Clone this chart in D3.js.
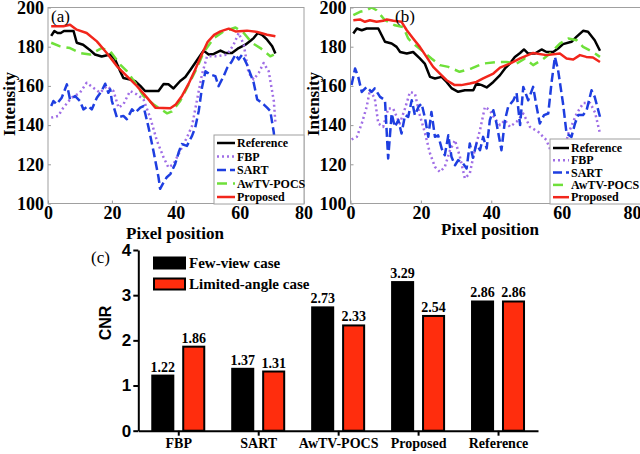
<!DOCTYPE html>
<html><head><meta charset="utf-8">
<script src="https://cdn.jsdelivr.net/npm/d3@7"></script>
<style>body{margin:0;background:#fff}svg{display:block}</style>
</head><body><svg id="c" width="640" height="454"></svg>
<script>
// ---------------- DATA ----------------
const seriesNames = ['Reference','FBP','SART','AwTV-POCS','Proposed'];
const xTicks = [0,20,40,60,80];
const yTicks = [100,120,140,160,180,200];

// Panel (a): few-view case profiles [pixel, intensity]
const refA = [[1,185.5],[2,188],[3,187],[4,187],[5,188],[8,188],[9,182],[11,181],[13,178.5],[14.7,176],[16.8,175],[19.5,176],[21,173.5],[22.6,167.5],[23.6,164],[25.7,163.3],[27.3,162.4],[28.9,160],[30.4,157.4],[32,157.4],[34.6,157.4],[36.2,161],[37.7,160.8],[39.3,158.7],[41.4,162.5],[43,164.5],[44.5,168],[46.6,173],[48.7,178],[50.3,176],[51.9,176.3],[54,178],[55.5,176.8],[57.6,176.8],[59.7,179.3],[61.8,181],[63.4,183],[64.4,184.4],[65.7,187],[67,186.1],[68.6,183.6],[70.2,180.2],[71.2,176.5]];
const fbpA = [[1,143.8],[3.2,144.7],[4.8,148.9],[7.4,154],[10,156.5],[12.1,161.6],[14.2,159],[16.3,156.5],[18.4,159.9],[20.5,157.4],[22.1,148.9],[23.6,150.6],[25.7,157.4],[27.8,155.7],[29.9,153.1],[32,143.8],[34.1,132],[36.2,123.5],[37.7,118.4],[39.3,120.1],[41.4,126.9],[43.5,133.7],[45.1,139.6],[46.6,152.3],[48.2,165.8],[49.8,175.1],[52.9,175.1],[56.1,176],[58.1,181],[59.7,187],[61.3,181],[62.8,166.7],[64.4,163.3],[66,166.7],[67.5,171.7],[69.1,167.5],[70.7,152.3],[71.2,141.3]];
const sartA = [[1,149.7],[1.7,152.3],[2.7,150.6],[4.3,154],[5.3,158.2],[5.9,160.8],[6.9,153.1],[8.5,154.8],[10,152.3],[11.1,148],[12.6,149.7],[13.7,148],[15.3,154],[16.8,157.4],[17.9,161.1],[18.9,156.5],[19.5,158.2],[20,152.3],[21.6,143.8],[23.6,144.7],[24.7,143],[26.3,148],[27.3,146.3],[28.9,148.9],[29.9,149.7],[31.5,138.7],[33,126.9],[34.6,113.4],[35.1,107.5],[36.2,110.8],[37.2,113.4],[38.3,115],[39.8,120.1],[40.9,126],[41.9,130.3],[43.5,129.4],[45.1,134.5],[46.1,138.7],[47.2,147.2],[48.2,159],[49.3,167.5],[50.8,165.8],[52.4,165],[53.4,159.9],[55,165],[56.1,169.2],[57.6,172.6],[58.7,176],[59.7,173.5],[60.8,176],[62.3,170.9],[64.4,161.6],[65.5,153.1],[67.5,150.6],[68.6,148.9],[69.6,147.2],[70.7,136.2],[71.2,128]];
const awtvA = [[1,182],[3.8,180.2],[6.9,179.3],[10,176.8],[13.2,176],[16.8,179.3],[19.5,177.7],[22.6,170.9],[24.7,167.5],[27.3,161.6],[29.9,154.8],[33,150.6],[36.2,147.2],[37.3,146],[38.8,147],[41.4,152.3],[43.5,159],[46.6,169],[48.7,177],[51.9,184.4],[55,187.8],[58.7,189.8],[61.3,187],[63.9,181.9],[66.5,179.3],[69.6,175.1],[70.7,176]];
const propA = [[1,190.4],[4.8,190.4],[6.9,191.2],[9,188.7],[12.1,187],[15.3,182.7],[18.4,176.8],[21.6,170],[24.7,165],[27.8,160],[31,154],[33.6,148.9],[38.3,148.6],[40,150.5],[42,155],[44,161],[46,168],[48,175.5],[50,182.5],[52,186],[54,187.8],[56.6,189.2],[58.7,187.8],[62.3,188.2],[65.5,187.5],[68.6,186.1],[71.2,185.3]];

// Panel (b): limited-angle case profiles [pixel, intensity]
const refB = [[0.8,186.7],[1.8,189.3],[3.2,188.4],[4.6,189.3],[7.9,189.3],[9.8,182.5],[11.7,181.6],[13.1,179.9],[14.1,177.3],[16,176.5],[17.8,177.3],[19.7,174],[21.1,171.4],[22.6,164.6],[24,163.8],[25.9,164.6],[27.3,162],[28.8,158.7],[30.6,157],[32.5,157.8],[34.9,157.8],[35.8,161.2],[37.3,160.4],[38.7,159.2],[40.6,162],[42.5,165.5],[43.9,168.9],[45.3,171.4],[46.7,174.8],[48.2,176.8],[49.3,178.6],[50.5,176.5],[52.4,176.5],[54.3,178.6],[55.7,177.3],[57.6,177.3],[59,179.1],[60.4,181.3],[62.8,182.5],[64.2,185],[66.1,188.1],[67.5,187.6],[69.4,183.3],[70.9,177.9]];
const fbpB = [[0.3,132.7],[1.8,134],[3.2,140.8],[4.6,149.3],[5.5,157.8],[6.9,153.6],[7.9,140.8],[9.3,139.1],[10.7,148.5],[12.1,148.5],[14,140.8],[15.5,148.5],[16.9,156.9],[18.3,156.1],[19.7,145.1],[21.2,135.7],[22.6,125.5],[24,118.7],[25.4,116.1],[26.8,118.7],[28.3,127.2],[29.7,132.3],[31.1,123.8],[32.5,112.8],[33.9,115.3],[35.4,128.1],[36.8,137.4],[38.2,149.3],[39.6,147.6],[41,143.4],[42.5,140],[43.9,142.5],[45.3,139.1],[47.2,141.7],[49.1,145.9],[51,139.1],[53.4,136.5],[55.7,132.3],[57.6,123.8],[59.1,120.4],[60.5,126],[61.9,135.7],[64.3,146],[66.2,151.3],[68.1,151.3],[69.5,146.4],[70.9,135.7]];
const sartB = [[0.3,160.4],[1.3,168.9],[2.2,164.6],[3.2,156.9],[4.6,159.5],[6,156.9],[6.9,158.7],[8.4,154.4],[9.8,152.7],[10.7,123],[11.7,145.9],[12.6,139.1],[13.6,142.5],[14.5,135.7],[15.5,145.1],[16.4,144.2],[17.4,152.7],[18.3,145.1],[19.3,149.3],[20.2,151],[21.2,143.4],[22.1,134],[23,146.7],[24,134],[24.9,134.8],[25.9,128.1],[26.8,124.6],[27.8,134.8],[28.7,123.8],[29.7,119.5],[30.6,122.1],[32,120.4],[33,117.9],[33.9,130.6],[34.8,123.3],[35.8,130.6],[36.8,127.2],[37.7,134],[38.7,128.1],[39.6,142.5],[40.6,147.6],[41.5,140.8],[42.9,127.2],[43.9,142.5],[44.8,149.3],[46.3,152.7],[47.2,156.4],[48.2,140],[49.1,159.5],[50.5,152.7],[51.9,159.5],[52.9,149.3],[53.8,140.8],[55,145.1],[56.2,145.9],[57.1,161.2],[58.1,174.8],[59,168],[60.4,151],[61.4,135.7],[62.8,134],[63.8,140.8],[64.7,145.1],[66.1,145.1],[67.1,147.6],[68.5,157.8],[69.4,154.4],[70.9,144.2]];
const awtvB = [[0.8,196.1],[2.7,197.8],[4.6,198.6],[6,200],[7.4,198.6],[9.8,193.5],[12.6,190.9],[15,190],[16.4,184.2],[17.8,181.6],[20.2,178.2],[23,174],[25.4,170.6],[27.8,169.7],[31,167.2],[34.4,168.9],[37.7,171.4],[42,172.2],[44.4,172.2],[47.2,171.4],[49.6,174],[51.9,170.6],[54.3,173.1],[56.7,176.5],[59.5,181.6],[61.9,184.2],[64.3,183.3],[66.1,179.9],[68.9,177.3],[70.9,174.8]];
const propB = [[0.8,193.5],[2.7,193.9],[4.1,192.7],[5.5,193.5],[7.4,192.7],[9.3,193.2],[10.3,193.9],[12.2,193.2],[14.5,192.7],[16,188.4],[17.8,184.2],[19.7,179.9],[21.6,174.8],[23.5,169.7],[25.4,166.3],[27.3,162.9],[29.6,160.4],[31.5,160.4],[33.9,161.2],[35.8,162],[37.7,163.8],[40.6,166.3],[42.5,169.3],[45.3,171.4],[48.2,174],[51.9,176.8],[55.7,175.7],[59.5,176.5],[61.4,174],[63.3,173.5],[65.2,175.7],[67,174.8],[68.9,174.5],[70.9,172.2]];

// Panel (c): CNR bar chart
const cnrCategories = ['FBP','SART','AwTV-POCS','Proposed','Reference'];
const fewView = [1.22,1.37,2.73,3.29,2.86];
const limitedAngle = [1.86,1.31,2.33,2.54,2.86];
const cnrTicks = [0,1,2,3,4];
const barSeries = ['Few-view case','Limited-angle case'];

// ---------------- STYLE ----------------
const serif = '"Liberation Serif","Times New Roman",serif';
const sans = '"Liberation Sans",Arial,sans-serif';
const styles = {
  'Reference': {color:'#000000', dash:null},
  'FBP': {color:'#a06ee6', dash:'2,3'},
  'SART': {color:'#1e3ee0', dash:'9,4'},
  'AwTV-POCS': {color:'#6fe03a', dash:'10,6'},
  'Proposed': {color:'#f2261c', dash:null}
};
const svg = d3.select('#c');

function drawPanel(id, x, y, data, opts) {
  const g = svg.append('g');
  const xl = x.range()[0], xr = opts.frameRight, yt = y.range()[1], yb = y.range()[0];
  g.append('clipPath').attr('id', 'clip' + id).append('rect')
    .attr('x', xl).attr('y', yt).attr('width', xr - xl).attr('height', yb - yt);
  const ax = g.append('g').attr('transform', `translate(0,${yb})`)
    .call(d3.axisBottom(x).tickValues(xTicks).tickSizeInner(-3).tickSizeOuter(0).tickPadding(3));
  const ay = g.append('g').attr('transform', `translate(${xl},0)`)
    .call(d3.axisLeft(y).tickValues(yTicks).tickSizeInner(-3).tickSizeOuter(0).tickPadding(4));
  [ax, ay].forEach(a => {
    a.select('.domain').remove();
    a.selectAll('line').attr('stroke', '#999');
    a.selectAll('text').attr('font-family', serif).attr('font-weight', 'bold')
      .attr('font-size', 18).attr('fill', '#000');
  });
  g.append('rect').attr('x', xl).attr('y', yt).attr('width', xr - xl).attr('height', yb - yt)
    .attr('fill', 'none').attr('stroke', '#a0a0a0').attr('stroke-width', 1);
  const line = d3.line().x(d => x(d[0])).y(d => y(d[1]));
  const lg = g.append('g').attr('clip-path', `url(#clip${id})`);
  seriesNames.forEach((name, i) => {
    lg.append('path').datum(data[i]).attr('d', line)
      .attr('fill', 'none').attr('stroke', styles[name].color).attr('stroke-width', 2.5)
      .attr('stroke-dasharray', styles[name].dash).attr('stroke-linejoin', 'round');
  });
  g.append('text').attr('x', opts.labelX).attr('y', 22).text(opts.label)
    .attr('font-family', serif).attr('font-size', 17);
  g.append('text').attr('x', opts.titleX).attr('y', opts.titleY).attr('text-anchor', 'middle')
    .attr('dominant-baseline', 'central').text('Pixel position')
    .attr('font-family', serif).attr('font-weight', 'bold').attr('font-size', 17);
  g.append('text').attr('transform', `translate(${opts.yTitleX},104) rotate(-90)`)
    .attr('text-anchor', 'middle').attr('dominant-baseline', 'central').text('Intensity')
    .attr('font-family', serif).attr('font-weight', 'bold').attr('font-size', 17);
  const L = opts.legend;
  const leg = g.append('g');
  leg.append('rect').attr('x', L.x).attr('y', L.y).attr('width', L.w).attr('height', L.h)
    .attr('fill', '#fff').attr('stroke', '#a0a0a0');
  seriesNames.forEach((name, i) => {
    const cy = L.y0 + i * L.dy;
    leg.append('line').attr('x1', L.x + 3).attr('x2', L.x + 3 + L.lw).attr('y1', cy).attr('y2', cy)
      .attr('stroke', styles[name].color).attr('stroke-width', 2.5)
      .attr('stroke-dasharray', styles[name].dash);
    leg.append('text').attr('x', L.x + 5 + L.lw).attr('y', cy).attr('dominant-baseline', 'central')
      .text(name).attr('font-family', serif).attr('font-weight', 'bold').attr('font-size', 12);
  });
}

const yLine = d3.scaleLinear().domain([100, 200]).range([203.5, 7.5]);
const xA = d3.scaleLinear().domain([0, 80]).range([48, 303.5]);
const xB = d3.scaleLinear().domain([0, 80]).range([350.5, 632]);

drawPanel('A', xA, yLine, [refA, fbpA, sartA, awtvA, propA], {
  frameRight: 304, label: '(a)', labelX: 51, titleX: 175, titleY: 233, yTitleX: 9,
  legend: {x: 214, y: 135, w: 90, h: 69, y0: 143, dy: 13.5, lw: 18}
});
drawPanel('B', xB, yLine, [refB, fbpB, sartB, awtvB, propB], {
  frameRight: 642, label: '(b)', labelX: 395, titleX: 490, titleY: 229, yTitleX: 313,
  legend: {x: 550, y: 139, w: 94, h: 65, y0: 148, dy: 12.3, lw: 16}
});

// ---------------- BAR CHART ----------------
const xC = d3.scalePoint().domain(cnrCategories).range([138.3, 538]).padding(0.5);
const xInner = d3.scaleBand().domain(barSeries).range([-26, 26]).paddingInner(0.32);
const yC = d3.scaleLinear().domain([0, 4]).range([430.7, 250]);
const barColors = {'Few-view case': '#000000', 'Limited-angle case': '#ff2d0d'};
const bars = svg.append('g');
const barData = [];
cnrCategories.forEach((c, i) => {
  barData.push({c, s: barSeries[0], v: fewView[i]});
  barData.push({c, s: barSeries[1], v: limitedAngle[i]});
});
bars.selectAll('rect').data(barData).join('rect')
  .attr('x', d => xC(d.c) + xInner(d.s)).attr('width', xInner.bandwidth())
  .attr('y', d => yC(d.v)).attr('height', d => yC(0) - yC(d.v))
  .attr('fill', d => barColors[d.s]).attr('stroke', '#000').attr('stroke-width', 2);
bars.selectAll('text').data(barData).join('text')
  .attr('x', d => xC(d.c) + xInner(d.s) + xInner.bandwidth() / 2).attr('y', d => yC(d.v) - 4)
  .attr('text-anchor', 'middle').text(d => d.v.toFixed(2))
  .attr('font-family', serif).attr('font-weight', 'bold').attr('font-size', 14);

const axC = svg.append('g').attr('transform', `translate(0,${yC(0)})`)
  .call(d3.axisBottom(xC).tickSizeInner(5).tickSizeOuter(0).tickPadding(2));
axC.selectAll('text').attr('font-family', serif).attr('font-weight', 'bold').attr('font-size', 14).attr('fill', '#000');
const ayC = svg.append('g').attr('transform', `translate(138.3,0)`)
  .call(d3.axisLeft(yC).tickValues(cnrTicks).tickFormat(d3.format('d')).tickSizeInner(5).tickSizeOuter(0).tickPadding(2));
ayC.selectAll('text').attr('font-family', sans).attr('font-weight', 'bold').attr('font-size', 17).attr('fill', '#000');
[axC, ayC].forEach(a => {
  a.select('.domain').attr('stroke', '#000').attr('stroke-width', 2);
  a.selectAll('line').attr('stroke', '#000').attr('stroke-width', 2);
});
svg.append('text').attr('transform', `translate(105,323) rotate(-90)`).attr('text-anchor', 'middle')
  .attr('dominant-baseline', 'central').text('CNR')
  .attr('font-family', sans).attr('font-weight', 'bold').attr('font-size', 16);
svg.append('text').attr('x', 91).attr('y', 263).text('(c)')
  .attr('font-family', serif).attr('font-size', 17);
barSeries.forEach((s, i) => {
  const cy = [263, 284][i];
  svg.append('rect').attr('x', 154).attr('y', cy - 5.5).attr('width', 31).attr('height', 11)
    .attr('fill', barColors[s]).attr('stroke', '#000').attr('stroke-width', 2);
  svg.append('text').attr('x', 189).attr('y', cy).attr('dominant-baseline', 'central').text(s)
    .attr('font-family', serif).attr('font-weight', 'bold').attr('font-size', 15);
});
</script></body></html>
